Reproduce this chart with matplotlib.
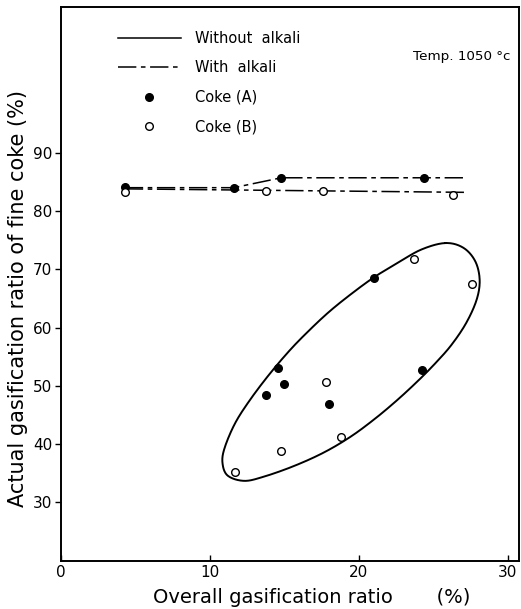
import numpy as np
import matplotlib.pyplot as plt
from matplotlib.lines import Line2D

#######################################
# DATA

# points on the upper level (fine coke)
coke_a_top_x = [4.3, 11.6, 14.8, 24.4]
coke_a_top_y = [84.1, 83.9, 85.7, 85.7]
coke_b_top_x = [4.3, 13.8, 17.6, 26.3]
coke_b_top_y = [83.2, 83.4, 83.5, 82.8]

# trend lines through them
trend_a_x = [4.3, 11.6, 14.8, 27.2]
trend_a_y = [84.0, 84.0, 85.7, 85.7]
trend_b_x = [4.3, 27.2]
trend_b_y = [83.8, 83.2]

# scattered points
coke_a_x = [21.0, 14.6, 15.0, 13.8, 18.0, 24.2]
coke_a_y = [68.5, 53.0, 50.3, 48.5, 46.9, 52.7]
coke_b_x = [23.7, 27.6, 17.8, 18.8, 14.8, 11.7]
coke_b_y = [71.8, 67.5, 50.7, 41.3, 38.8, 35.3]

# closed outline around the scattered points
outline_x = [25.8, 24.2, 22.6, 21.0, 19.4, 18.0, 16.7, 15.4, 14.0, 12.7,
             11.7, 11.0, 10.85, 11.2, 12.3, 13.6, 15.6, 17.6, 19.4, 21.0,
             22.5, 23.9, 25.1, 26.2, 27.2, 27.9, 28.1, 27.8, 27.0]
outline_y = [74.5, 73.4, 71.1, 68.6, 65.6, 62.7, 59.6, 56.2, 52.0, 47.6,
             43.6, 39.4, 36.8, 34.6, 33.7, 34.4, 36.2, 38.5, 41.2, 44.2,
             47.4, 50.7, 53.8, 57.0, 60.8, 64.8, 68.2, 71.4, 73.7]

x_ticks = [0, 10, 20, 30]
y_ticks = [30, 40, 50, 60, 70, 80, 90]


def closed_curve(xs, ys, n=20):
    # Catmull-Rom through the outline points, closed
    pts = np.column_stack([xs, ys])
    N = len(pts)
    t = np.linspace(0, 1, n, endpoint=False)[:, None]
    out = []
    for i in range(N):
        p0, p1, p2, p3 = pts[(i-1) % N], pts[i], pts[(i+1) % N], pts[(i+2) % N]
        out.append(0.5*(2*p1 + (-p0 + p2)*t
                        + (2*p0 - 5*p1 + 4*p2 - p3)*t**2
                        + (-p0 + 3*p1 - 3*p2 + p3)*t**3))
    out = np.vstack(out + [pts[:1]])
    return out[:, 0], out[:, 1]


#######################################
# PLOT

plt.rcParams['font.family'] = ['DejaVu Sans']

fig = plt.figure(figsize=(5.21, 6.09), dpi=100)
ax = fig.add_axes([0.1165, 0.0793, 0.8797, 0.9092])

dashdot = (0, (12, 3, 3, 3))

ax.plot(trend_a_x, trend_a_y, c='k', lw=1.1, ls=dashdot)
ax.plot(trend_b_x, trend_b_y, c='k', lw=1.1, ls=dashdot)

ex, ey = closed_curve(outline_x, outline_y)
ax.plot(ex, ey, c='k', lw=1.4)

ax.plot(coke_a_top_x + coke_a_x, coke_a_top_y + coke_a_y, 'o', ms=5.5,
        mfc='k', mec='k', ls='none')
ax.plot(coke_b_top_x + coke_b_x, coke_b_top_y + coke_b_y, 'o', ms=5.5,
        mfc='white', mec='k', mew=1.0, ls='none')

ax.set_xlim(0, 30.74)
ax.set_ylim(20, 115.0)
ax.set_xticks(x_ticks)
ax.set_yticks(y_ticks)
ax.tick_params(axis='x', direction='in', length=4, width=1, labelsize=11, pad=3)
ax.tick_params(axis='y', direction='out', length=4, width=1, labelsize=11, pad=2)
for s in ax.spines.values():
    s.set_linewidth(1.4)

ax.set_xlabel("Overall gasification ratio       (%)", fontsize=14)
ax.xaxis.set_label_coords(0.547, -0.05)
ax.set_ylabel("Actual gasification ratio of fine coke (%)", fontsize=15)
ax.yaxis.set_label_coords(-0.071, 0.474)

handles = [
    Line2D([], [], c='k', lw=1.1),
    Line2D([], [], c='k', lw=1.1, ls=dashdot),
    Line2D([], [], marker='o', ms=5.5, mfc='k', mec='k', ls='none'),
    Line2D([], [], marker='o', ms=5.5, mfc='white', mec='k', ls='none'),
]
labels = ["Without  alkali", "With  alkali", "Coke (A)", "Coke (B)"]
ax.legend(handles, labels, loc='upper left', bbox_to_anchor=(0.125, 0.957),
          frameon=False, fontsize=10.5, handlelength=4.3, handletextpad=1.0,
          labelspacing=1.0, borderpad=0, borderaxespad=0)

ax.text(0.769, 0.91, "Temp. 1050 °c", transform=ax.transAxes,
        fontsize=9.7, va='center', ha='left')

fig.savefig("out.png", dpi=100)
